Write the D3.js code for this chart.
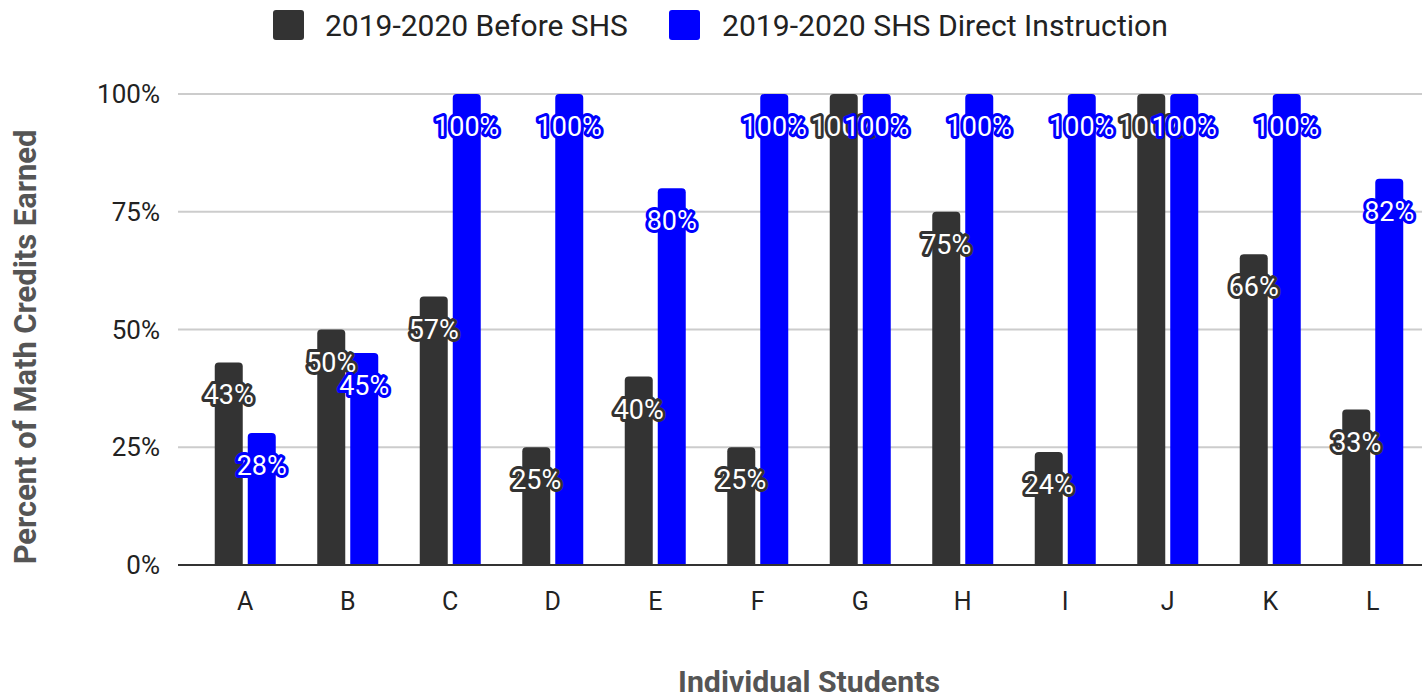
<!DOCTYPE html>
<html><head><meta charset="utf-8">
<script src="https://cdn.jsdelivr.net/npm/d3@7"></script>
<style>body{margin:0;background:#fff;}svg{display:block;font-family:Roboto,sans-serif;}</style>
</head><body>
<svg id="c" width="1422" height="698"></svg>
<script>
const categories = ["A","B","C","D","E","F","G","H","I","J","K","L"];
const beforeSHS = [43,50,57,25,40,25,100,75,24,100,66,33];
const shsDirect = [28,45,100,100,80,100,100,100,100,100,100,82];
const seriesNames = ["2019-2020 Before SHS","2019-2020 SHS Direct Instruction"];
const yTicks = [0,25,50,75,100];
const colors = ["#333333","#0000ff"];

const svg = d3.select("#c");
const x = d3.scaleBand().domain(categories).range([194,1424]);
const y = d3.scaleLinear().domain([0,100]).range([565,94]);
const barW = 28, gap = 5;

function fit(sel, target){
  const w = sel.node().getComputedTextLength();
  const fs = parseFloat(sel.attr("font-size"));
  sel.attr("font-size", fs*target/w);
}

// gridlines
svg.append("g").selectAll("line").data(yTicks.filter(d=>d>0)).join("line")
  .attr("x1",178).attr("x2",1422).attr("y1",d=>y(d)).attr("y2",d=>y(d))
  .attr("stroke","#cccccc").attr("stroke-width",2);

// y tick labels
svg.append("g").selectAll("text").data(yTicks).join("text")
  .attr("x",160).attr("y",d=>y(d)+9).attr("text-anchor","end")
  .attr("font-size",26).attr("fill","#222").text(d=>d+"%");

// bars
function barPath(x0,w,yTop,yBot,r){
  r=Math.min(r,yBot-yTop);
  return `M${x0},${yBot}V${yTop+r}Q${x0},${yTop} ${x0+r},${yTop}H${x0+w-r}Q${x0+w},${yTop} ${x0+w},${yTop+r}V${yBot}Z`;
}
const series=[beforeSHS,shsDirect];
series.forEach((vals,si)=>{
  svg.append("g").selectAll("path").data(vals).join("path")
    .attr("d",(v,i)=>{
      const c = x(categories[i])+x.bandwidth()/2;
      const x0 = si===0 ? c-gap/2-barW : c+gap/2;
      return barPath(x0,barW,y(v),y(0),4);
    }).attr("fill",colors[si]);
});

// zero line
svg.append("line").attr("x1",178).attr("x2",1422).attr("y1",y(0)).attr("y2",y(0))
  .attr("stroke","#333").attr("stroke-width",2);

// data labels
series.forEach((vals,si)=>{
  svg.append("g").selectAll("text").data(vals).join("text")
    .attr("x",(v,i)=>{
      const c = x(categories[i])+x.bandwidth()/2;
      return si===0 ? c-gap/2-barW/2 : c+gap/2+barW/2;
    })
    .attr("y",v=>y(v)+42).attr("text-anchor","middle")
    .attr("font-size",27).attr("fill","#ffffff")
    .attr("stroke",colors[si]).attr("stroke-width",6).attr("stroke-linejoin","round")
    .attr("paint-order","stroke")
    .text(v=>v+"%");
});

// x tick labels
svg.append("g").selectAll("text").data(categories).join("text")
  .attr("x",d=>x(d)+x.bandwidth()/2).attr("y",610).attr("text-anchor","middle")
  .attr("font-size",25).attr("fill","#222").text(d=>d);

// axis titles
const xt = svg.append("text").attr("x",809).attr("y",692).attr("text-anchor","middle")
  .attr("font-size",26).attr("font-weight","bold").attr("fill","#555").text("Individual Students");
fit(xt,262);
const yt = svg.append("text").attr("transform","translate(36,347) rotate(-90)").attr("text-anchor","middle")
  .attr("font-size",26).attr("font-weight","bold").attr("fill","#555").text("Percent of Math Credits Earned");
fit(yt,435);

// legend
const legX=[273,669], legTX=[325,722], legW=[303,446];
seriesNames.forEach((n,i)=>{
  svg.append("rect").attr("x",legX[i]).attr("y",10).attr("width",31).attr("height",30).attr("rx",3)
    .attr("fill",colors[i]);
  const t = svg.append("text").attr("x",legTX[i]).attr("y",36).attr("font-size",28)
    .attr("fill","#222").text(n);
  fit(t,legW[i]);
});
</script>
</body></html>
